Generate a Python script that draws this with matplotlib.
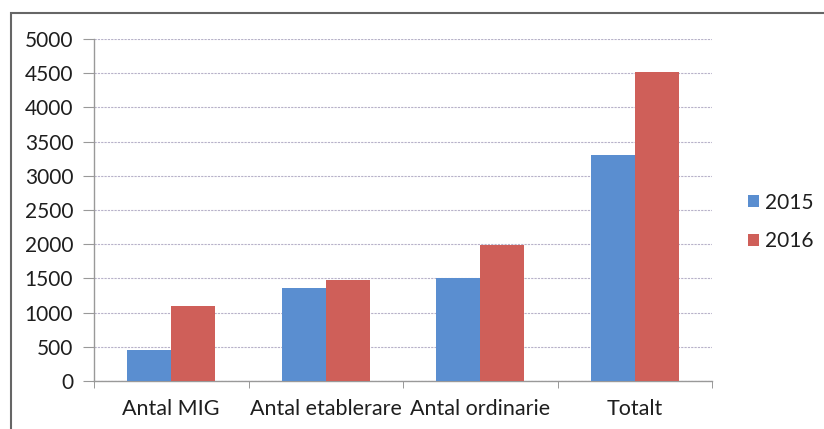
import matplotlib
matplotlib.use('Agg')
import numpy as np
import matplotlib.pyplot as plt
from matplotlib.patches import Rectangle

CATEGORIES = ['Antal MIG', 'Antal etablerare', 'Antal ordinarie', 'Totalt']
YEARS = ['2015', '2016']
VALUES_2015 = [450, 1360, 1500, 3310]
VALUES_2016 = [1090, 1470, 1990, 4520]
Y_TICKS = [0, 500, 1000, 1500, 2000, 2500, 3000, 3500, 4000, 4500, 5000]

BLUE = '#5A8ED0'
RED = '#CF5F59'
TEXT = '#1e1e1e'

plt.rcParams['font.family'] = ['Lato', 'DejaVu Sans']

fig = plt.figure(figsize=(8.24, 4.29), dpi=100)
ax = fig.add_axes([94 / 824, 48 / 429, 618 / 824, 342 / 429])

x = np.arange(len(CATEGORIES))
w = 44 / 155
ax.bar(x - w / 2, VALUES_2015, w, color=BLUE, label=YEARS[0], zorder=3)
ax.bar(x + w / 2, VALUES_2016, w, color=RED, label=YEARS[1], zorder=3)

ax.set_xlim(-0.5, len(CATEGORIES) - 0.5)
ax.set_ylim(0, 5000)
ax.set_yticks(Y_TICKS)
ax.set_yticklabels([str(v) for v in Y_TICKS], fontsize=15, color=TEXT)
ax.yaxis.grid(True, color='#b7b2c9', linestyle=(0, (2, 1)), linewidth=0.8, zorder=0)

# category labels centred, ticks on the category borders
ax.set_xticks(x)
ax.set_xticklabels(CATEGORIES, fontsize=15.5, color=TEXT)
ax.tick_params(axis='x', length=0, pad=13)
ax.set_xticks(np.arange(-0.5, len(CATEGORIES)), minor=True)
ax.tick_params(axis='x', which='minor', length=5, color='#888888', direction='out')
ax.tick_params(axis='y', length=8, color='#999999', direction='out', pad=7)

for s in ['top', 'right']:
    ax.spines[s].set_visible(False)
for s in ['left', 'bottom']:
    ax.spines[s].set_color('#999999')
    ax.spines[s].set_linewidth(1.0)

leg = fig.legend(loc='center left', bbox_to_anchor=(740 / 824, 1 - 222 / 429),
                 frameon=False, fontsize=15, handlelength=0.5, handleheight=0.5,
                 handletextpad=0.3, labelspacing=0.9, borderaxespad=0)
for t in leg.get_texts():
    t.set_color(TEXT)

# outer chart border (cropped by the image edges on right and bottom)
fig.patches.append(Rectangle((11 / 824, -0.1), 1.2, 1 - 13 / 429 + 0.1,
                             transform=fig.transFigure, fill=False,
                             edgecolor='#666666', linewidth=1.5))

fig.savefig('out.png', dpi=100)
